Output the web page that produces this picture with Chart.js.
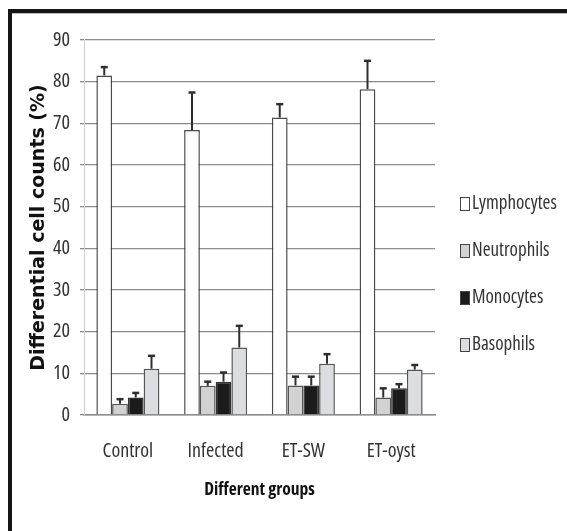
<!DOCTYPE html>
<html><head><meta charset="utf-8">
<script src="https://cdn.jsdelivr.net/npm/chart.js@4/dist/chart.umd.min.js"></script>
<style>html,body{margin:0;padding:0;background:#fff;} #wrap{width:567px;height:531px;position:relative}</style>
</head><body><div id="wrap"><canvas id="c" width="567" height="531"></canvas></div>
<script>
const categories = ['Control', 'Infected', 'ET-SW', 'ET-oyst'];
const seriesNames = ['Lymphocytes', 'Neutrophils', 'Monocytes', 'Basophils'];
const lymphocytes = [81.5, 68.4, 71.4, 78.2];
const lymphocytesErr = [2.0, 9.0, 3.2, 6.8];
const neutrophils = [2.7, 7.0, 7.1, 4.2];
const neutrophilsErr = [1.1, 1.0, 2.1, 2.2];
const monocytes = [4.2, 8.0, 7.1, 6.4];
const monocytesErr = [1.1, 2.2, 2.1, 1.0];
const basophils = [11.1, 16.2, 12.3, 10.9];
const basophilsErr = [3.1, 5.2, 2.3, 1.1];
const yMin = 0, yMax = 90, yStep = 10;
const yTitle = 'Differential cell counts (%)';
const xTitle = 'Different groups';

const NARROW = "'Open Sans', sans-serif";

const errorBars = {
  id: 'errorBars',
  afterDatasetsDraw(chart) {
    const ctx = chart.ctx, ys = chart.scales.y;
    chart.data.datasets.forEach((ds, i) => {
      const meta = chart.getDatasetMeta(i);
      meta.data.forEach((bar, j) => {
        const v = ds.data[j], e = ds.errors[j];
        const x = bar.x, y0 = ys.getPixelForValue(v), y1 = ys.getPixelForValue(v + e);
        ctx.save();
        ctx.strokeStyle = '#2e2e2e';
        ctx.lineWidth = 2;
        ctx.beginPath(); ctx.moveTo(x, y0); ctx.lineTo(x, y1); ctx.stroke();
        ctx.lineWidth = 2.5;
        ctx.beginPath(); ctx.moveTo(x - 3.5, y1); ctx.lineTo(x + 3.5, y1); ctx.stroke();
        ctx.restore();
      });
    });
  }
};

const sideLegend = {
  id: 'sideLegend',
  afterDraw(chart) {
    const ctx = chart.ctx;
    ctx.save();
    ctx.textBaseline = 'middle';
    ctx.textAlign = 'left';
    ctx.font = "condensed 19px " + NARROW;
    chart.data.datasets.forEach((ds, i) => {
      const cy = 204 + i * 47;
      ctx.fillStyle = ds.backgroundColor;
      ctx.fillRect(460, cy - 6.5, 9, 13);
      ctx.strokeStyle = '#444';
      ctx.lineWidth = 1;
      ctx.strokeRect(460.5, cy - 6.5, 9, 13);
      ctx.fillStyle = '#333';
      ctx.fillText(ds.label, 472, cy);
    });
    ctx.restore();
  }
};

const frame = {
  id: 'frame',
  beforeDraw(chart) {
    const ctx = chart.ctx;
    ctx.save();
    ctx.fillStyle = '#fff';
    ctx.fillRect(0, 0, chart.width, chart.height);
    ctx.restore();
  },
  afterDraw(chart) {
    const ctx = chart.ctx;
    ctx.save();
    ctx.fillStyle = '#151515';
    ctx.fillRect(8, 9, chart.width - 8, 4);
    ctx.fillRect(8, 9, 4, chart.height - 9);
    ctx.fillStyle = '#b8bcc0';
    ctx.fillRect(12, 13, chart.width - 12, 1);
    ctx.restore();
  }
};

const mk = (label, data, errors, fill, border) => ({
  label, data, errors, backgroundColor: fill, borderColor: border, borderWidth: 1.5,
  categoryPercentage: 0.718, barPercentage: 1.0
});

new Chart(document.getElementById('c'), {
  type: 'bar',
  data: {
    labels: categories,
    datasets: [
      mk(seriesNames[0], lymphocytes, lymphocytesErr, '#ffffff', '#4a4a4a'),
      mk(seriesNames[1], neutrophils, neutrophilsErr, '#d2d2d2', '#555555'),
      mk(seriesNames[2], monocytes, monocytesErr, '#1b1b1b', '#333333'),
      mk(seriesNames[3], basophils, basophilsErr, '#dcdde0', '#555555')
    ]
  },
  options: {
    responsive: false,
    animation: false,
    devicePixelRatio: 1,
    layout: { padding: { left: 0, right: 132, top: 40, bottom: 0 } },
    plugins: { legend: { display: false }, tooltip: { enabled: false } },
    scales: {
      x: {
        afterFit(s) { s.height = 116; },
        grid: { display: false, drawTicks: false },
        border: { display: true, color: '#8a8a8a', width: 1.5 },
        ticks: { color: '#333', font: { family: NARROW, size: 20, weight: 'condensed' }, padding: 24 },
        title: { display: true, text: xTitle, color: '#111', font: { family: NARROW, size: 17.5, weight: 'bold condensed' }, padding: { top: 0, bottom: 30 } }
      },
      y: {
        min: yMin, max: yMax,
        afterFit(s) { s.width = 84; },
        grid: { color: '#8c8c8c', lineWidth: 1.3, tickLength: 4, drawTicks: true },
        border: { display: true, color: '#cfcfcf', width: 1 },
        ticks: { stepSize: yStep, color: '#333', font: { family: NARROW, size: 20, weight: 'condensed' }, padding: 10 },
        title: { display: true, text: yTitle, color: '#111', font: { family: "'DejaVu Sans', sans-serif", size: 19, weight: 'bold' }, padding: { top: 28, bottom: 0 } }
      }
    }
  },
  plugins: [frame, errorBars, sideLegend]
});
</script></body></html>
